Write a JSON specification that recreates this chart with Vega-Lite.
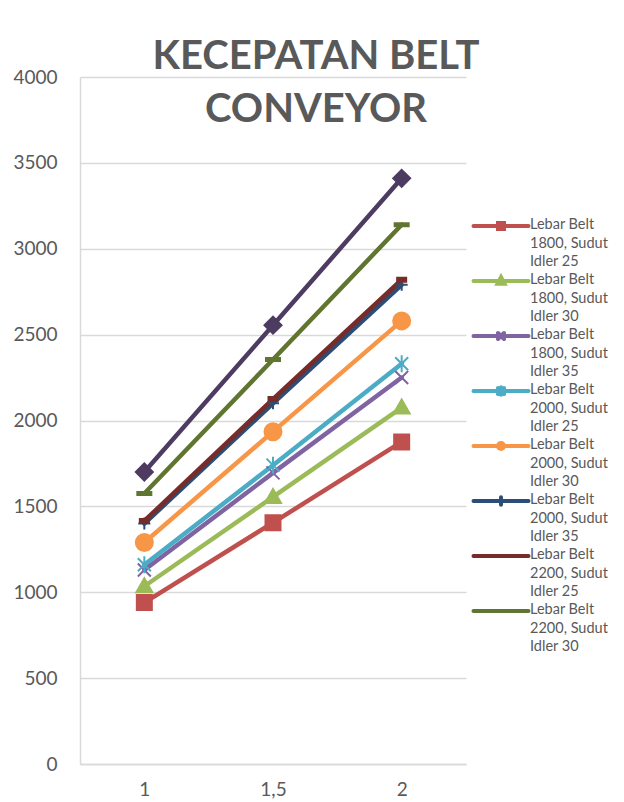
{
  "$schema": "https://vega.github.io/schema/vega-lite/v6.json",
  "width": 386,
  "height": 687,
  "autosize": "none",
  "padding": {"left": 80, "top": 77, "right": 158, "bottom": 38},
  "background": "white",
  "title": {
    "text": ["KECEPATAN BELT", "CONVEYOR"],
    "font": "Lato",
    "fontSize": 40,
    "fontWeight": "bold",
    "color": "#595959",
    "lineHeight": 53,
    "anchor": "middle",
    "frame": "group",
    "dx": 43,
    "offset": -62
  },
  "config": {
    "view": {"stroke": null},
    "font": "Lato"
  },
  "data": {
    "values": [
      {"series": "Lebar Belt 1800, Sudut Idler 25", "x": "1", "v": 940},
      {"series": "Lebar Belt 1800, Sudut Idler 25", "x": "1,5", "v": 1405},
      {"series": "Lebar Belt 1800, Sudut Idler 25", "x": "2", "v": 1875},
      {"series": "Lebar Belt 1800, Sudut Idler 30", "x": "1", "v": 1035},
      {"series": "Lebar Belt 1800, Sudut Idler 30", "x": "1,5", "v": 1555},
      {"series": "Lebar Belt 1800, Sudut Idler 30", "x": "2", "v": 2075},
      {"series": "Lebar Belt 1800, Sudut Idler 35", "x": "1", "v": 1130},
      {"series": "Lebar Belt 1800, Sudut Idler 35", "x": "1,5", "v": 1695},
      {"series": "Lebar Belt 1800, Sudut Idler 35", "x": "2", "v": 2250},
      {"series": "Lebar Belt 2000, Sudut Idler 25", "x": "1", "v": 1160},
      {"series": "Lebar Belt 2000, Sudut Idler 25", "x": "1,5", "v": 1740},
      {"series": "Lebar Belt 2000, Sudut Idler 25", "x": "2", "v": 2330},
      {"series": "Lebar Belt 2000, Sudut Idler 30", "x": "1", "v": 1290},
      {"series": "Lebar Belt 2000, Sudut Idler 30", "x": "1,5", "v": 1935},
      {"series": "Lebar Belt 2000, Sudut Idler 30", "x": "2", "v": 2580},
      {"series": "Lebar Belt 2000, Sudut Idler 35", "x": "1", "v": 1400},
      {"series": "Lebar Belt 2000, Sudut Idler 35", "x": "1,5", "v": 2100},
      {"series": "Lebar Belt 2000, Sudut Idler 35", "x": "2", "v": 2790},
      {"series": "Lebar Belt 2200, Sudut Idler 25", "x": "1", "v": 1415},
      {"series": "Lebar Belt 2200, Sudut Idler 25", "x": "1,5", "v": 2125},
      {"series": "Lebar Belt 2200, Sudut Idler 25", "x": "2", "v": 2820},
      {"series": "Lebar Belt 2200, Sudut Idler 30", "x": "1", "v": 1575},
      {"series": "Lebar Belt 2200, Sudut Idler 30", "x": "1,5", "v": 2355},
      {"series": "Lebar Belt 2200, Sudut Idler 30", "x": "2", "v": 3140},
      {"series": "Lebar Belt 2200, Sudut Idler 35", "x": "1", "v": 1700},
      {"series": "Lebar Belt 2200, Sudut Idler 35", "x": "1,5", "v": 2555},
      {"series": "Lebar Belt 2200, Sudut Idler 35", "x": "2", "v": 3410}
    ]
  },
  "encoding": {
    "x": {
      "field": "x",
      "type": "ordinal",
      "sort": ["1", "1,5", "2"],
      "scale": {"type": "point", "padding": 0.5},
      "axis": {
        "title": null,
        "labelAngle": 0,
        "ticks": false,
        "grid": false,
        "domainColor": "#d9d9d9",
        "domainWidth": 1.5,
        "labelFont": "Lato",
        "labelFontSize": 19,
        "labelColor": "#595959",
        "labelPadding": 16
      }
    },
    "y": {
      "field": "v",
      "type": "quantitative",
      "scale": {"domain": [0, 4000]},
      "axis": {
        "title": null,
        "values": [0, 500, 1000, 1500, 2000, 2500, 3000, 3500, 4000],
        "format": "d",
        "ticks": false,
        "domainColor": "#d9d9d9",
        "domainWidth": 1.5,
        "gridColor": "#d9d9d9",
        "gridWidth": 1.5,
        "labelFont": "Lato",
        "labelFontSize": 19,
        "labelColor": "#595959",
        "labelPadding": 23
      }
    }
  },
  "layer": [
    {
      "mark": {"type": "line", "strokeWidth": 4.5, "strokeCap": "round"},
      "encoding": {
        "color": {
          "field": "series",
          "type": "nominal",
          "scale": {
            "domain": [
              "Lebar Belt 1800, Sudut Idler 25",
              "Lebar Belt 1800, Sudut Idler 30",
              "Lebar Belt 1800, Sudut Idler 35",
              "Lebar Belt 2000, Sudut Idler 25",
              "Lebar Belt 2000, Sudut Idler 30",
              "Lebar Belt 2000, Sudut Idler 35",
              "Lebar Belt 2200, Sudut Idler 25",
              "Lebar Belt 2200, Sudut Idler 30",
              "Lebar Belt 2200, Sudut Idler 35"
            ],
            "range": ["#C0504D", "#9BBB59", "#8064A2", "#4BACC6", "#F79646", "#2C4D75", "#772C2A", "#5F7530", "#4D3B62"]
          },
          "legend": {
            "orient": "none",
            "legendX": 409,
            "legendY": 137,
            "title": null,
            "padding": 0,
            "rowPadding": -4.3,
            "values": [
              "Lebar Belt 1800, Sudut Idler 25",
              "Lebar Belt 1800, Sudut Idler 30",
              "Lebar Belt 1800, Sudut Idler 35",
              "Lebar Belt 2000, Sudut Idler 25",
              "Lebar Belt 2000, Sudut Idler 30",
              "Lebar Belt 2000, Sudut Idler 35",
              "Lebar Belt 2200, Sudut Idler 25",
              "Lebar Belt 2200, Sudut Idler 30"
            ],
            "symbolSize": 400,
            "symbolStrokeWidth": 4,
            "labelExpr": "[substring(datum.label, 0, 10), substring(datum.label, 11, 22), substring(datum.label, 23)]",
            "labelFont": "Lato",
            "labelFontSize": 14.5,
            "labelColor": "#595959",
            "labelOffset": 17,
            "labelBaseline": "top",
            "labelLimit": 0,
            "encode": {
              "symbols": {
                "update": {
                  "shape": {"signal": "['M-2.75,0H2.75M-0.3,-0.3H0.3V0.3H-0.3Z', 'M-2.75,0H2.75M0,-0.4L0.35,0.28H-0.35Z', 'M-2.75,0H2.75M-0.3,-0.3L0.3,0.3M-0.3,0.3L0.3,-0.3', 'M-2.75,0H2.75M-0.3,-0.3L0.3,0.3M-0.3,0.3L0.3,-0.3M0,-0.38V0.38', 'M-2.75,0H2.75M0.3,0A0.3,0.3 0 1,1 -0.3,0A0.3,0.3 0 1,1 0.3,0Z', 'M-2.75,0H2.75M0,-0.38V0.38', 'M-2.75,0H2.75', 'M-2.75,0H2.75'][indexof(['Lebar Belt 1800, Sudut Idler 25', 'Lebar Belt 1800, Sudut Idler 30', 'Lebar Belt 1800, Sudut Idler 35', 'Lebar Belt 2000, Sudut Idler 25', 'Lebar Belt 2000, Sudut Idler 30', 'Lebar Belt 2000, Sudut Idler 35', 'Lebar Belt 2200, Sudut Idler 25', 'Lebar Belt 2200, Sudut Idler 30'], datum.value)]"},
                  "fill": {"scale": "color", "field": "value"},
                  "stroke": {"scale": "color", "field": "value"},
                  "strokeWidth": {"value": 4},
                  "strokeCap": {"value": "round"},
                  "opacity": {"value": 1}
                }
              },
              "labels": {
                "update": {
                  "lineHeight": {"value": 18.5},
                  "dy": {"value": -8}
                }
              }
            }
          }
        }
      }
    },
    {
      "mark": {"type": "point", "filled": true, "opacity": 1, "strokeWidth": 2, "size": 400},
      "encoding": {
        "color": {"field": "series", "type": "nominal", "legend": null},
        "stroke": {
          "field": "series",
          "type": "nominal",
          "scale": {
            "range": ["#C0504D", "#9BBB59", "#8064A2", "#4BACC6", "#F79646", "#2C4D75", "#772C2A", "#5F7530", "#4D3B62"]
          },
          "legend": null
        },
        "shape": {
          "field": "series",
          "type": "nominal",
          "scale": {
            "range": [
              "M-0.75,-0.75H0.75V0.75H-0.75Z",
              "M0,-0.8L0.8,0.6H-0.8Z",
              "M-0.65,-0.65L0.65,0.65M-0.65,0.65L0.65,-0.65",
              "M-0.65,-0.65L0.65,0.65M-0.65,0.65L0.65,-0.65M0,-0.85V0.85",
              "M0.85,0A0.85,0.85 0 1,1 -0.85,0A0.85,0.85 0 1,1 0.85,0Z",
              "M-0.6,0H0.6M0,-0.6V0.6",
              "M-0.45,-0.2H0.45V0.2H-0.45Z",
              "M-0.7,-0.15H0.7V0.15H-0.7Z",
              "M-0.85,0L0,-0.85L0.85,0L0,0.85Z"
            ]
          },
          "legend": null
        }
      }
    }
  ]
}
